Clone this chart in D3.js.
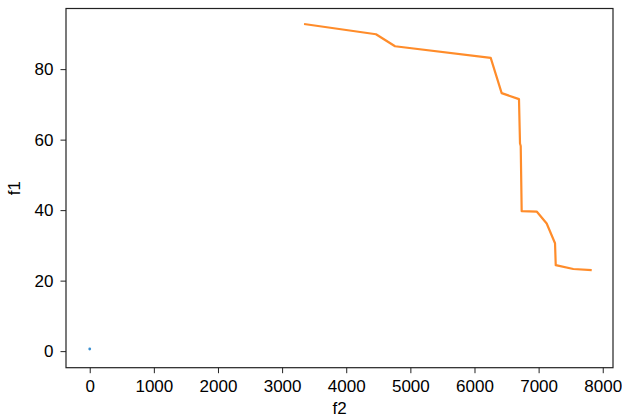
<!DOCTYPE html>
<html><head><meta charset="utf-8">
<script src="https://d3js.org/d3.v7.min.js"></script>
<style>body{margin:0;background:#fff;}text{font-family:"Liberation Sans",Arial,sans-serif;}</style>
</head><body>
<svg id="c" width="622" height="420"></svg>
<script>
const xTicks = [0,1000,2000,3000,4000,5000,6000,7000,8000];
const yTicks = [0,20,40,60,80];
const blueX = [0];
const blueY = [0.6];
const orangeX = [3342,4464,4761,6253,6424,6694,6710,6721,6736,6970,7126,7256,7267,7541,7828];
const orangeY = [92.8,89.9,86.5,83.2,73.2,71.5,58.9,58.2,39.7,39.6,36.2,30.6,24.4,23.3,23.0];

const FS = 17;
const svg = d3.select("#c");
const L=66, R=613, T=8.5, B=367.7;
const x = d3.scaleLinear().domain([-370,8160]).range([L,R]);
const y = d3.scaleLinear().domain([-4.7,97.2]).range([B,T]);

const xa = svg.append("g").attr("transform",`translate(0,${B})`)
  .call(d3.axisBottom(x).tickValues(xTicks).tickSize(5.5).tickPadding(7).tickFormat(d3.format("d")));
const ya = svg.append("g").attr("transform",`translate(${L},0)`)
  .call(d3.axisLeft(y).tickValues(yTicks).tickSize(5.5).tickPadding(7).tickFormat(d3.format("d")));
[xa,ya].forEach(a=>{a.select(".domain").remove();a.selectAll("text").attr("font-size",FS).attr("fill","#000").style("font-family","Liberation Sans");a.selectAll("line").attr("stroke","#222");});

svg.append("rect").attr("x",L).attr("y",T).attr("width",R-L).attr("height",B-T)
  .attr("fill","none").attr("stroke","#222").attr("stroke-width",1.2);

const pts = orangeX.map((v,i)=>[v,orangeY[i]]);
svg.append("path").attr("d",d3.line().x(d=>x(d[0])).y(d=>y(d[1]))(pts))
  .attr("fill","none").attr("stroke","#ff8c2a").attr("stroke-width",2.2).attr("stroke-linejoin","round");

svg.selectAll("circle.b").data(blueX).enter().append("circle")
  .attr("cx",d=>x(d)).attr("cy",(d,i)=>y(blueY[i])).attr("r",1.4).attr("fill","#3a8fd0");

svg.append("text").attr("x",(L+R)/2).attr("y",414).attr("text-anchor","middle").attr("font-size",FS).text("f2");
svg.append("text").attr("transform",`translate(20,${(T+B)/2}) rotate(-90)`).attr("text-anchor","middle").attr("font-size",FS).text("f1");
</script>
</body></html>
